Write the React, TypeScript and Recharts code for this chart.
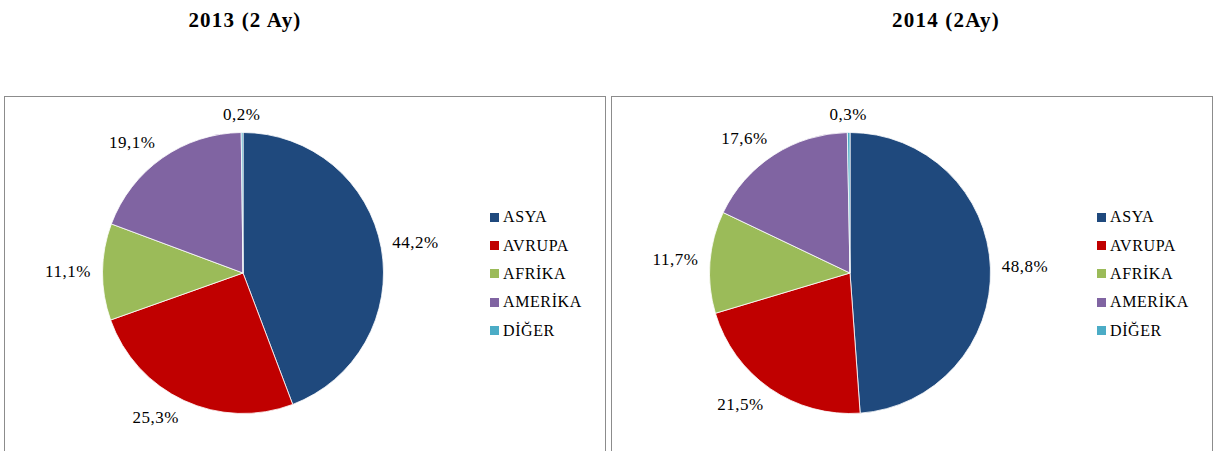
import { PieChart, Pie, Cell, Legend } from 'recharts';

const regions = ['ASYA', 'AVRUPA', 'AFRİKA', 'AMERİKA', 'DİĞER'];
const regionColors = ['#1F497D', '#C00000', '#9BBB59', '#8064A2', '#4BACC6'];

const shares2013 = [44.2, 25.3, 11.1, 19.1, 0.2];
const shares2014 = [48.8, 21.5, 11.7, 17.6, 0.3];

const title2013 = '2013 (2 Ay)';
const title2014 = '2014 (2Ay)';

const serif = '"Liberation Serif", "Times New Roman", serif';
const RADIAN = Math.PI / 180;

const fmt = (v: number) => `${v.toFixed(1).replace('.', ',')}%`;
const clamp = (v: number) => Math.max(-1, Math.min(1, v));

// "outside end" label: the box touches a point just past the rim,
// shifted so its nearest corner/edge faces the pie
const renderLabel = (props: any) => {
  const { cx, cy, midAngle, outerRadius, value } = props;
  const text = fmt(value);
  const w = text.length * 9.4;
  const h = 14;
  const c = Math.cos(-midAngle * RADIAN);
  const s = Math.sin(-midAngle * RADIAN);
  const r = outerRadius + 11;
  const x = cx + r * c + (w / 2) * clamp(2.5 * c);
  const y = cy + r * s + (h / 2) * clamp(2.5 * s);
  return (
    <text
      x={x}
      y={y}
      textAnchor="middle"
      dominantBaseline="central"
      fill="#000"
      style={{ fontFamily: serif, fontSize: 17, letterSpacing: 0.5 }}
    >
      {text}
    </text>
  );
};

const LegendBox = () => (
  <div style={{ fontFamily: serif, fontSize: 16, color: '#000' }}>
    {regions.map((name, i) => (
      <div key={name} style={{ display: 'flex', alignItems: 'center', height: 28.4 }}>
        <span style={{ width: 9, height: 9, background: regionColors[i], marginRight: 4, display: 'inline-block' }} />
        <span style={{ letterSpacing: 0.6 }}>{name}</span>
      </div>
    ))}
  </div>
);

function RegionPie({ values }: { values: number[] }) {
  const data = regions.map((name, i) => ({ name, value: values[i] }));
  return (
    <PieChart width={600} height={360} margin={{ top: 0, right: 0, bottom: 0, left: 0 }}>
      <Pie
        data={data}
        dataKey="value"
        nameKey="name"
        cx={238}
        cy={176}
        outerRadius={140.5}
        startAngle={90}
        endAngle={-270}
        stroke="#ffffff"
        strokeWidth={0.8}
        label={renderLabel}
        labelLine={false}
        isAnimationActive={false}
      >
        {data.map((d, i) => (
          <Cell key={d.name} fill={regionColors[i]} />
        ))}
      </Pie>
      <Legend
        layout="vertical"
        align="right"
        verticalAlign="top"
        content={() => <LegendBox />}
        wrapperStyle={{ left: 485, top: 106, width: 120 }}
      />
    </PieChart>
  );
}

const boxStyle = {
  position: 'absolute' as const,
  top: 96,
  width: 600,
  height: 360,
  border: '1px solid #8c8c8c',
  background: '#fff',
};

const titleStyle = {
  position: 'absolute' as const,
  top: 8,
  width: 300,
  textAlign: 'center' as const,
  fontFamily: serif,
  fontWeight: 700,
  fontSize: 21,
  letterSpacing: 1.2,
  color: '#000',
};

export default function App() {
  return (
    <div style={{ position: 'absolute', left: 0, top: 0, width: 1214, height: 451, overflow: 'hidden', background: '#fff' }}>
      <div style={{ ...titleStyle, left: 95 }}>{title2013}</div>
      <div style={{ ...titleStyle, left: 796 }}>{title2014}</div>
      <div style={{ ...boxStyle, left: 4 }}>
        <RegionPie values={shares2013} />
      </div>
      <div style={{ ...boxStyle, left: 611 }}>
        <RegionPie values={shares2014} />
      </div>
    </div>
  );
}
